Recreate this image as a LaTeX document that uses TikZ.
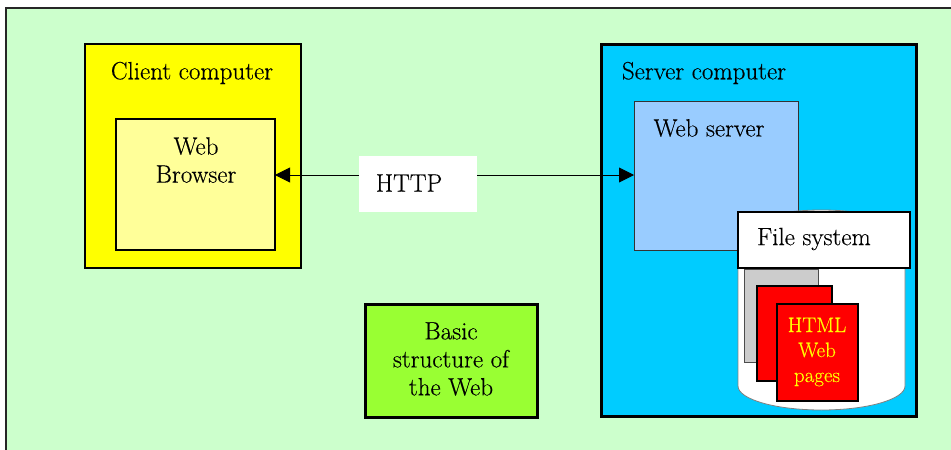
\documentclass[tikz,border=0pt]{standalone}
\usepackage{fontspec}
\setmainfont{Latin Modern Roman}[FakeBold=0.35]
\usetikzlibrary{arrows.meta}
\definecolor{bggreen}{HTML}{CCFFCC}
\definecolor{clientyellow}{HTML}{FFFF00}
\definecolor{browseryellow}{HTML}{FFFF99}
\definecolor{servercyan}{HTML}{00CCFF}
\definecolor{webblue}{HTML}{99CCFF}
\definecolor{filegray}{HTML}{CCCCCC}
\definecolor{pagered}{HTML}{FF0000}
\definecolor{basicgreen}{HTML}{99FF33}
\tikzset{
  box/.style={rectangle, anchor=north west, inner sep=0pt, outer sep=0pt},
  lbl/.style={inner sep=0pt, align=center, font=\fontsize{25}{28}\selectfont},
  smalllbl/.style={inner sep=0pt, align=center, font=\fontsize{21}{25}\selectfont, text=clientyellow},
  link/.style={line width=0.9pt, {Triangle[length=15pt,width=15pt]}-{Triangle[length=15pt,width=15pt]}},
}
\begin{document}
\begin{tikzpicture}[x=1pt,y=-1pt]
\useasboundingbox (0,0) rectangle (951,450);
% background frame
\fill[bggreen] (6,8) rectangle (960,460);
\draw[line width=2pt, black!85] (6,460) -- (6,8) -- (960,8);

% client
\node[box, draw, line width=2.5pt, fill=clientyellow, minimum width=216pt, minimum height=224pt] (client) at (85,44) {};
\node[lbl] (clientlbl) at (192,73) {Client computer};
\node[box, draw, line width=2pt, fill=browseryellow, minimum width=159pt, minimum height=131pt] (browser) at (116,119) {};
\node[lbl] (browserlbl) at (196,160) {Web\\Browser};

% server
\node[box, draw, line width=3pt, fill=servercyan, minimum width=315pt, minimum height=372pt] (server) at (601,44) {};
\node[lbl] (serverlbl) at (704,73) {Server computer};
\node[box, draw=black!80, line width=1pt, fill=webblue, minimum width=164pt, minimum height=149pt] (webserver) at (634,101) {};
\node[lbl] (webserverlbl) at (709,128) {Web server};

% cylinder (file store)
\draw[draw=black!50, line width=0.8pt, fill=white] (738,235) -- (738,386)
  arc[start angle=180, end angle=0, x radius=83.5, y radius=24] -- (905,235)
  arc[start angle=0, end angle=-180, x radius=83.5, y radius=25] -- cycle;
\node[box, draw=black!70, line width=1pt, fill=filegray, minimum width=74pt, minimum height=93pt] (gray) at (744,269) {};
\node[box, draw, line width=2.5pt, fill=pagered, minimum width=75pt, minimum height=95pt] (page1) at (757,286) {};
\node[box, draw, line width=2.5pt, fill=pagered, minimum width=81pt, minimum height=97pt] (page2) at (777,304) {};
\node[smalllbl] (pagelbl) at (817,352) {HTML\\Web\\pages};

\node[box, draw, line width=2pt, fill=white, minimum width=172pt, minimum height=56pt] (filesys) at (738,212) {};
\node[lbl] (filesyslbl) at (814,239) {File system};

% HTTP link
\coordinate (hy) at (0,175);
\draw[link] (browser.east |- hy) -- (webserver.west |- hy);
\node[box, fill=white, minimum width=118pt, minimum height=56pt] (http) at (359,156) {};
\node[lbl] (httplbl) at (409,183) {HTTP};

% caption box
\node[box, draw, line width=3pt, fill=basicgreen, minimum width=172pt, minimum height=113pt] (basic) at (365,304) {};
\node[lbl] (basiclbl) at (451,359) {Basic\\structure of\\the Web};
\end{tikzpicture}
\end{document}
